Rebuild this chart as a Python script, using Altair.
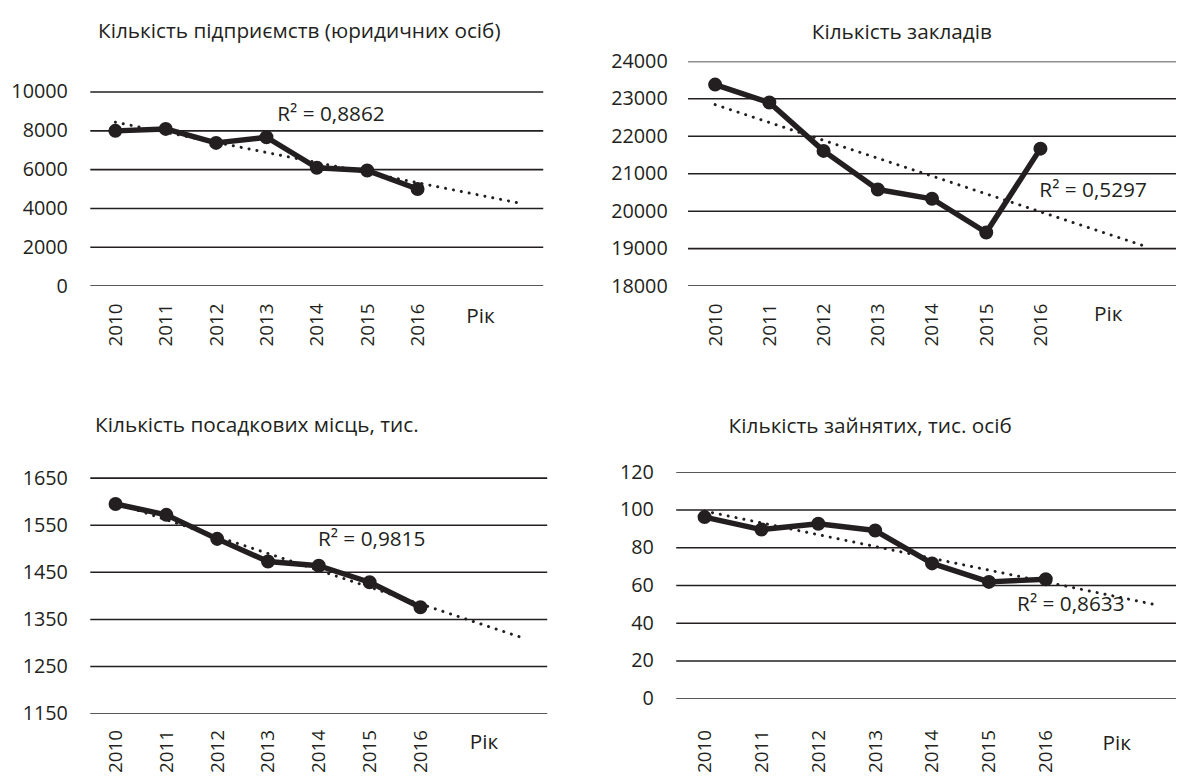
import altair as alt
import pandas as pd

years = [2010, 2011, 2012, 2013, 2014, 2015, 2016]
enterprises = [8000, 8100, 7380, 7670, 6100, 5960, 5000]
establishments = [23380, 22900, 21610, 20580, 20330, 19430, 21670]
seats = [1595, 1572, 1521, 1473, 1464, 1429, 1376]
employed = [96.2, 89.6, 92.7, 89.1, 71.7, 61.9, 63.3]

titles = [
    "Кількість підприємств (юридичних осіб)",
    "Кількість закладів",
    "Кількість посадкових місць, тис.",
    "Кількість зайнятих, тис. осіб",
]
r2_texts = ["R² = 0,8862", "R² = 0,5297", "R² = 0,9815", "R² = 0,8633"]
y_ticks_1 = [0, 2000, 4000, 6000, 8000, 10000]
y_ticks_2 = [18000, 19000, 20000, 21000, 22000, 23000, 24000]
y_ticks_3 = [1150, 1250, 1350, 1450, 1550, 1650]
y_ticks_4 = [0, 20, 40, 60, 80, 100, 120]
x_title = "Рік"

FONT = "Open Sans"
INK = "#231f20"
FS_Y = 20
FS_X = 19
FS_T = 21


def panel(values, ticks, title, r2, r2_at, width, height, x_dom_max, x_range,
          y_range, y_label_pad, x_label_pad, title_dx, title_offset, x_title_y):
    idx = list(range(len(years)))
    df = pd.DataFrame({"i": idx, "v": values})
    x_scale = alt.Scale(domain=[-0.5, x_dom_max], range=x_range, nice=False, zero=False)
    y_scale = alt.Scale(domain=[ticks[0], ticks[-1]], range=y_range, nice=False, zero=False)
    label_expr = "[" + ",".join(f"'{y}'" for y in years) + "][datum.value]"
    x_axis = alt.Axis(values=idx, labelExpr=label_expr, labelAngle=270,
                      labelPadding=x_label_pad, ticks=False, tickSize=0,
                      domain=False, grid=False, title=None, labelFont=FONT,
                      labelFontSize=FS_X, labelColor=INK, labelAlign="right",
                      labelBaseline="middle")
    y_axis = alt.Axis(values=ticks, labelPadding=y_label_pad, ticks=False,
                      tickSize=0, domain=False, grid=False, title=None,
                      format="d", labelFont=FONT, labelFontSize=FS_Y,
                      labelColor=INK)

    def X(f):
        return alt.X(f, scale=x_scale, axis=x_axis)

    def Y(f):
        return alt.Y(f, scale=y_scale, axis=y_axis)

    grid_df = pd.DataFrame({"t": ticks, "x0": -0.5, "x1": x_dom_max})
    grid = alt.Chart(grid_df).mark_rule(color=INK, strokeWidth=1.6, clip=True).encode(
        x=X("x0:Q"), x2="x1:Q", y=Y("t:Q"))

    base = alt.Chart(df)
    trend = base.transform_regression("i", "v", extent=[0, 8]).mark_line(
        color=INK, strokeWidth=3, strokeDash=[0.1, 8], strokeCap="round").encode(
        x=X("i:Q"), y=Y("v:Q"))
    line = base.mark_line(color=INK, strokeWidth=5.5, strokeJoin="round").encode(
        x=X("i:Q"), y=Y("v:Q"))
    pts = base.mark_circle(color=INK, size=200, opacity=1).encode(
        x=X("i:Q"), y=Y("v:Q"))

    r2_df = pd.DataFrame({"x": [r2_at[0]], "y": [r2_at[1]], "t": [r2]})
    r2_text = alt.Chart(r2_df).mark_text(font=FONT, fontSize=FS_T, color=INK,
                                         align="center", baseline="middle").encode(
        x=X("x:Q"), y=Y("y:Q"), text="t:N")

    xt_df = pd.DataFrame({"x": [7.25], "t": [x_title]})
    xt = alt.Chart(xt_df).mark_text(font=FONT, fontSize=FS_T, color=INK,
                                    align="center", baseline="middle").encode(
        x=X("x:Q"), y=alt.value(x_title_y), text="t:N")

    return alt.layer(grid, trend, line, pts, r2_text, xt).properties(
        width=width, height=height,
        title=alt.TitleParams(text=title, anchor="start", frame="group",
                              dx=title_dx, offset=title_offset,
                              baseline="alphabetic", font=FONT, fontSize=FS_T,
                              fontWeight="normal", color=INK))


p1 = panel(enterprises, y_ticks_1, titles[0], r2_texts[0], (4.28, 8827),
           458, 227, 8.5, [0, 458], [227, 31], 23, 17, 8, 3, 258)
p2 = panel(establishments, y_ticks_2, titles[1], r2_texts[1], (6.97, 20534),
           505, 227, 8.5, [12, 505], [227, 0], 9, 17, 137, -8, 256)
p3 = panel(seats, y_ticks_3, titles[2], r2_texts[2], (5.04, 1519),
           462, 244, 8.5, [0, 462], [244, 6], 23, 16, 5, 16, 274)
p4 = panel(employed, y_ticks_4, titles[3], r2_texts[3], (6.44, 49.4),
           505, 229, 8.29, [0, 505], [229, 0], 23, 31, 53, 9, 275)

chart = alt.concat(p1, p2, p3, p4, columns=2,
                   spacing={"row": 188, "column": 130},
                   bounds="flush").properties(
    padding={"left": 2, "top": 9, "right": 0, "bottom": -5}
).configure_view(stroke=None)

chart.save("out.html", embed_options={"renderer": "svg", "actions": False})
